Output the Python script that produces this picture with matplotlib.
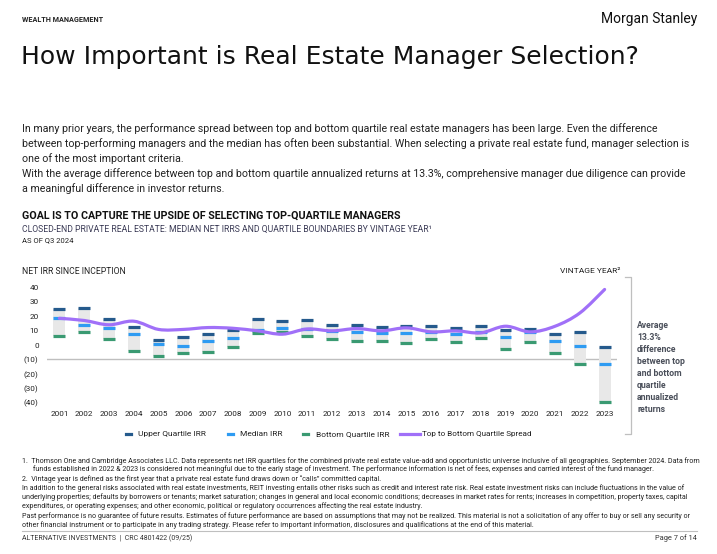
import matplotlib
matplotlib.use("Agg")
import matplotlib.pyplot as plt
from matplotlib.path import Path
from matplotlib.patches import PathPatch
from matplotlib.lines import Line2D

# Data (net IRR, %)
years = [str(y) for y in range(2001, 2024)]
upper_q = [25.3, 25.7, 18.3, 12.8, 3.7, 5.8, 7.5, 10.5, 18.2, 16.8, 17.6, 14.2,
           14.2, 12.8, 13.5, 13.5, 12.1, 13.5, 10.7, 11.4, 7.9, 9.3, -1.1]
median = [18.4, 13.6, 12.1, 7.3, 0.4, -0.4, 2.9, 5.0, 10.5, 12.1, 11.4, 10.0,
          8.7, 8.6, 8.6, 9.3, 7.3, 9.3, 5.8, 9.3, 3.0, -0.4, -12.9]
bottom_q = [6.5, 8.7, 4.4, -3.9, -7.4, -5.3, -4.6, -1.1, 8.4, 9.3, 6.5, 4.4,
            2.8, 3.0, 1.6, 4.4, 2.3, 5.1, -2.5, 2.3, -5.3, -12.9, -39.3]
spread = [18.5, 17.0, 14.0, 16.5, 10.8, 10.8, 12.1, 11.6, 9.8, 7.5, 11.1, 9.8,
          11.4, 9.8, 11.9, 9.1, 9.8, 8.4, 13.0, 9.1, 13.0, 22.2, 38.5]
y_ticks = [40, 30, 20, 10, 0, -10, -20, -30, -40]
y_tick_labels = ["40", "30", "20", "10", "0", "(10)", "(20)", "(30)", "(40)"]

C_UP = "#255a8c"
C_MED = "#2e9bf2"
C_BOT = "#3a9a72"
C_BOX = "#e8e8e8"
C_LINE = "#a070f8"

plt.rcParams['font.family'] = ['Roboto', 'DejaVu Sans']

W, H = 717, 554
fig = plt.figure(figsize=(W / 100, H / 100), dpi=100)


def fx(px):
    return px / W


def fy(py):
    return 1 - py / H


# header
fig.text(fx(22), fy(20), "WEALTH MANAGEMENT", fontsize=5.2, fontweight='bold',
         va='center', color='#222222')
fig.text(fx(697), fy(19), "Morgan Stanley", fontsize=10, ha='right', va='center',
         color='#111111')
fig.text(fx(21), fy(57), "How Important is Real Estate Manager Selection?",
         fontsize=18, va='center', color='#111111', family='DejaVu Sans')

para = [
    "In many prior years, the performance spread between top and bottom quartile real estate managers has been large. Even the difference",
    "between top-performing managers and the median has often been substantial. When selecting a private real estate fund, manager selection is",
    "one of the most important criteria.",
    "With the average difference between top and bottom quartile annualized returns at 13.3%, comprehensive manager due diligence can provide",
    "a meaningful difference in investor returns.",
]
for i, line in enumerate(para):
    fig.text(fx(22), fy(129 + 15 * i), line, fontsize=7.65, va='center',
             color='#222222')

fig.text(fx(22), fy(216), "GOAL IS TO CAPTURE THE UPSIDE OF SELECTING TOP-QUARTILE MANAGERS",
         fontsize=7.7, fontweight='bold', va='center', color='#111111')
fig.text(fx(22), fy(229), "CLOSED-END PRIVATE REAL ESTATE: MEDIAN NET IRRS AND QUARTILE BOUNDARIES BY VINTAGE YEAR\u00b9",
         fontsize=6.2, va='center', color='#3a3a55')
fig.text(fx(22), fy(240), "AS OF Q3 2024", fontsize=5.5, va='center', color='#222222')

fig.text(fx(22), fy(271), "NET IRR SINCE INCEPTION", fontsize=6.2, va='center',
         color='#222222')
fig.text(fx(620), fy(271), "VINTAGE YEAR\u00b2", fontsize=6.0, ha='right',
         va='center', color='#222222')

# chart
ax = fig.add_axes([fx(47), fy(402.7), fx(617) - fx(47), fy(287.3) - fy(402.7)])
x = list(range(len(years)))
box_h = [u - b for u, b in zip(upper_q, bottom_q)]
ax.bar(x, box_h, bottom=bottom_q, width=0.48, color=C_BOX, zorder=1)
ax.hlines(upper_q, [i - 0.24 for i in x], [i + 0.24 for i in x], colors=C_UP,
          lw=2.3, zorder=3, clip_on=False)
ax.hlines(median, [i - 0.24 for i in x], [i + 0.24 for i in x], colors=C_MED,
          lw=2.3, zorder=3, clip_on=False)
ax.hlines(bottom_q, [i - 0.24 for i in x], [i + 0.24 for i in x], colors=C_BOT,
          lw=2.3, zorder=3, clip_on=False)
ax.axhline(-10, color='#bfbfbf', lw=1.0, zorder=0)

# smoothed spread line (Catmull-Rom -> Bezier)
n = len(x)
verts = [(x[0], spread[0])]
codes = [Path.MOVETO]
for i in range(n - 1):
    p0 = max(i - 1, 0)
    p3 = min(i + 2, n - 1)
    c1 = (x[i] + (x[i + 1] - x[p0]) / 6, spread[i] + (spread[i + 1] - spread[p0]) / 6)
    c2 = (x[i + 1] - (x[p3] - x[i]) / 6, spread[i + 1] - (spread[p3] - spread[i]) / 6)
    verts += [c1, c2, (x[i + 1], spread[i + 1])]
    codes += [Path.CURVE4] * 3
ax.add_patch(PathPatch(Path(verts, codes), fill=False, edgecolor=C_LINE, lw=2.3,
                       zorder=4, capstyle='round'))

ax.set_xlim(-0.5, len(years) - 0.5)
ax.set_ylim(-40, 40)
ax.set_yticks(y_ticks)
ax.set_yticklabels(y_tick_labels)
ax.set_xticks(x)
ax.set_xticklabels(years)
ax.tick_params(length=0, labelsize=5.9, colors='#222222')
ax.tick_params(axis='y', pad=6)
ax.tick_params(axis='x', pad=6)
for s in ax.spines.values():
    s.set_visible(False)
ax.patch.set_alpha(0)

# legend
leg = [(126, C_UP, "Upper Quartile IRR", 138),
       (228, C_MED, "Median IRR", 240),
       (303, C_BOT, "Bottom Quartile IRR", 316)]
for mx, c, lab, tx in leg:
    fig.add_artist(Line2D([fx(mx), fx(mx + 5)], [fy(434), fy(434)], color=c, lw=2.3))
    fig.text(fx(tx), fy(434), lab, fontsize=6.0, va='center', color='#222222')
fig.add_artist(Line2D([fx(400), fx(420)], [fy(434), fy(434)], color=C_LINE, lw=2.3))
fig.text(fx(422), fy(434), "Top to Bottom Quartile Spread", fontsize=5.9,
         va='center', color='#222222')

# bracket + callout
fig.add_artist(Line2D([fx(625), fx(631), fx(631), fx(625)],
                      [fy(277), fy(277), fy(434), fy(434)], color='#bfbfbf', lw=0.9))
callout = ["Average", "13.3%", "difference", "between top", "and bottom",
           "quartile", "annualized", "returns"]
for i, line in enumerate(callout):
    fig.text(fx(637), fy(326 + 12 * i), line, fontsize=6.2, fontweight='bold',
             va='center', color='#4a4f5a')

# footnotes
notes = [
    (22, "1.  Thomson One and Cambridge Associates LLC. Data represents net IRR quartiles for the combined private real estate value-add and opportunistic universe inclusive of all geographies. September 2024. Data from"),
    (33, "funds established in 2022 & 2023 is considered not meaningful due to the early stage of investment. The performance information is net of fees, expenses and carried interest of the fund manager."),
    (22, "2.  Vintage year is defined as the first year that a private real estate fund draws down or \u201ccalls\u201d committed capital."),
    (22, "In addition to the general risks associated with real estate investments, REIT investing entails other risks such as credit and interest rate risk. Real estate investment risks can include fluctuations in the value of"),
    (22, "underlying properties; defaults by borrowers or tenants; market saturation; changes in general and local economic conditions; decreases in market rates for rents; increases in competition, property taxes, capital"),
    (22, "expenditures, or operating expenses; and other economic, political or regulatory occurrences affecting the real estate industry."),
    (22, "Past performance is no guarantee of future results. Estimates of future performance are based on assumptions that may not be realized. This material is not a solicitation of any offer to buy or sell any security or"),
    (22, "other financial instrument or to participate in any trading strategy. Please refer to important information, disclosures and qualifications at the end of this material."),
]
note_y = [461, 469, 479, 488, 497, 506, 516, 525]
for (nx, line), ny in zip(notes, note_y):
    fig.text(fx(nx), fy(ny), line, fontsize=5.1, va='center', color='#222222')
fig.add_artist(Line2D([fx(22), fx(697)], [fy(531), fy(531)], color='#bfbfbf', lw=0.8))
fig.text(fx(22), fy(538), "ALTERNATIVE INVESTMENTS  |  CRC 4801422 (09/25)", fontsize=5.0,
         va='center', color='#333333')
fig.text(fx(697), fy(538), "Page 7 of 14", fontsize=5.3, ha='right', va='center',
         color='#333333')

fig.savefig("out.png", dpi=100)
